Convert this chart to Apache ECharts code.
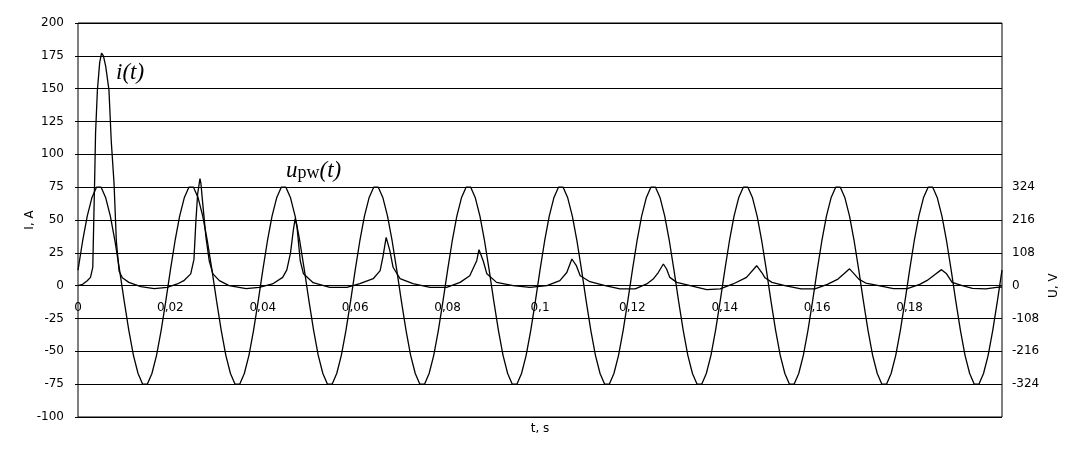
<!DOCTYPE html>
<html>
<head>
<meta charset="utf-8">
<title>i(t), upw(t)</title>
<script src="https://cdn.jsdelivr.net/npm/echarts@6/dist/echarts.min.js"></script>
<style>
  html, body { margin: 0; padding: 0; background: #fff; }
  #chart { width: 1087px; height: 455px; }
</style>
</head>
<body>
<div id="chart"></div>
<script>
// left axis (current, A) and right axis (voltage, V)
const currentTicks = { min: -100, max: 200, interval: 25 };
const voltageTicks = [-324, -216, -108, 0, 108, 216, 324];
const timeTicks = { min: 0, max: 0.2, interval: 0.02 };

// voltage upw(t), sampled every 1 ms
const voltageStep = 0.001;
const voltageV = [
  51, 147, 229, 289, 324, 324, 289, 229, 147, 51, -51, -147, -229, -289, -324, -324, -289, -229, -147, -51,
  51, 147, 229, 289, 324, 324, 289, 229, 147, 51, -51, -147, -229, -289, -324, -324, -289, -229, -147, -51,
  51, 147, 229, 289, 324, 324, 289, 229, 147, 51, -51, -147, -229, -289, -324, -324, -289, -229, -147, -51,
  51, 147, 229, 289, 324, 324, 289, 229, 147, 51, -51, -147, -229, -289, -324, -324, -289, -229, -147, -51,
  51, 147, 229, 289, 324, 324, 289, 229, 147, 51, -51, -147, -229, -289, -324, -324, -289, -229, -147, -51,
  51, 147, 229, 289, 324, 324, 289, 229, 147, 51, -51, -147, -229, -289, -324, -324, -289, -229, -147, -51,
  51, 147, 229, 289, 324, 324, 289, 229, 147, 51, -51, -147, -229, -289, -324, -324, -289, -229, -147, -51,
  51, 147, 229, 289, 324, 324, 289, 229, 147, 51, -51, -147, -229, -289, -324, -324, -289, -229, -147, -51,
  51, 147, 229, 289, 324, 324, 289, 229, 147, 51, -51, -147, -229, -289, -324, -324, -289, -229, -147, -51,
  51, 147, 229, 289, 324, 324, 289, 229, 147, 51, -51, -147, -229, -289, -324, -324, -289, -229, -147, -51,
  51
];

// current i(t): [t (s), i (A)]
const currentPts = [
  [0.0000, 0], [0.0010, 1.0], [0.0020, 3.8], [0.0027, 6.3], [0.0032, 14], [0.0036, 80],
  [0.0038, 116], [0.0042, 149], [0.0047, 170], [0.0051, 177], [0.0055, 175], [0.0060, 167],
  [0.0067, 149], [0.0072, 110], [0.0078, 78], [0.0083, 34], [0.0089, 11], [0.0096, 6],
  [0.0110, 2.5], [0.0136, -0.8], [0.0165, -2.3], [0.0193, -1.3], [0.0215, 1.3], [0.0229, 3.8],
  [0.0244, 9], [0.0251, 20], [0.0255, 48], [0.0259, 70], [0.0264, 81.5], [0.0266, 78],
  [0.0270, 62.5], [0.0277, 36.8], [0.0284, 19], [0.0292, 9], [0.0306, 3.8], [0.0327, 0],
  [0.0364, -2.3], [0.0392, -1.3], [0.0421, 1.3], [0.0443, 6.3], [0.0452, 12], [0.0460, 25],
  [0.0466, 42], [0.0470, 51], [0.0474, 45], [0.0481, 19], [0.0488, 9], [0.0509, 2.3],
  [0.0545, -1.3], [0.0582, -1.3], [0.0610, 1.5], [0.0639, 5.3], [0.0654, 11.4], [0.0660, 22],
  [0.0667, 36.8], [0.0675, 26.7], [0.0682, 14], [0.0697, 5.3], [0.0725, 1.5], [0.0762, -1.3],
  [0.0798, -1.3], [0.0827, 2.5], [0.0848, 7.6], [0.0863, 19], [0.0868, 27.4], [0.0877, 19],
  [0.0885, 9], [0.0906, 2.5], [0.0942, 0], [0.0978, -1.3], [0.1015, 0], [0.1043, 3.8],
  [0.1058, 10], [0.1069, 20.3], [0.1079, 15], [0.1087, 7.6], [0.1108, 3], [0.1141, 0],
  [0.1173, -2.5], [0.1206, -2.5], [0.1231, 1.3], [0.1245, 5], [0.1256, 10], [0.1267, 16.5],
  [0.1274, 12.7], [0.1281, 6.3], [0.1296, 2.5], [0.1325, 0], [0.1361, -3], [0.1390, -2.5],
  [0.1418, 1.3], [0.1447, 6.3], [0.1469, 15.2], [0.1480, 10], [0.1487, 6], [0.1502, 2.5],
  [0.1530, 0], [0.1565, -2.5], [0.1595, -2.5], [0.1622, 1], [0.1645, 5], [0.1658, 9],
  [0.1670, 12.8], [0.1680, 9], [0.1690, 5], [0.1705, 2], [0.1733, 0], [0.1765, -2.3],
  [0.1795, -2.3], [0.1822, 1], [0.1838, 4], [0.1855, 8.5], [0.1869, 12.2], [0.1880, 9],
  [0.1892, 2.5], [0.1914, 0], [0.1936, -2], [0.1965, -2.5], [0.1988, -1.3], [0.2000, -1]
];

const voltagePts = voltageV.map((v, k) => [+(k * voltageStep).toFixed(4), v]);

// plot box in px
const box = { left: 78, top: 23, width: 924, height: 394 };
const span = currentTicks.max - currentTicks.min;
// the voltage grid covers -75..75 A on the left scale (= -324..324 V)
const vTop = box.top + box.height * (currentTicks.max - 75) / span;
const vHeight = box.height * 150 / span;
// time labels sit on the zero line, not on the bottom edge
const zeroOffset = -box.height * (0 - currentTicks.min) / span;

const font = 'DejaVu Sans';
const txt = { color: '#000', fontFamily: font, fontSize: 12 };

const chart = echarts.init(document.getElementById('chart'));
chart.setOption({
  animation: false,
  backgroundColor: '#fff',
  grid: [
    { left: box.left, top: box.top, width: box.width, height: box.height,
      show: true, borderColor: '#000', borderWidth: 1 },
    { left: box.left, top: vTop, width: box.width, height: vHeight }
  ],
  xAxis: [
    {
      type: 'value', gridIndex: 0, position: 'bottom', offset: zeroOffset,
      min: timeTicks.min, max: timeTicks.max, interval: timeTicks.interval,
      axisLine: { show: false, onZero: false },
      axisTick: { show: false },
      splitLine: { show: false },
      axisLabel: {
        ...txt, margin: 16, showMaxLabel: false,
        formatter: v => (v > 0.199 ? '' : String(+v.toFixed(2)).replace('.', ','))
      }
    },
    {
      type: 'value', gridIndex: 0, position: 'bottom',
      min: timeTicks.min, max: timeTicks.max,
      axisLine: { show: false, onZero: false }, axisTick: { show: false },
      axisLabel: { show: false }, splitLine: { show: false },
      name: 't, s', nameLocation: 'middle', nameGap: 6,
      nameTextStyle: txt
    },
    {
      type: 'value', gridIndex: 1, show: false,
      min: timeTicks.min, max: timeTicks.max
    }
  ],
  yAxis: [
    {
      type: 'value', gridIndex: 0,
      min: currentTicks.min, max: currentTicks.max, interval: currentTicks.interval,
      axisLine: { show: false },
      axisTick: { show: true, length: 3, lineStyle: { color: '#000' } },
      splitLine: { show: true, lineStyle: { color: '#000', width: 1 } },
      axisLabel: { ...txt, margin: 14 },
      name: 'I, A', nameLocation: 'middle', nameGap: 42, nameRotate: 90,
      nameMoveOverlap: false,
      nameTextStyle: txt
    },
    {
      type: 'value', gridIndex: 1, position: 'right',
      min: voltageTicks[0], max: voltageTicks[voltageTicks.length - 1], interval: 108,
      axisLine: { show: false },
      axisTick: { show: true, length: 5, lineStyle: { color: '#000' } },
      splitLine: { show: false },
      axisLabel: { ...txt, margin: 10 },
      name: 'U, V', nameLocation: 'middle', nameGap: 46, nameRotate: 90,
      nameMoveOverlap: false,
      nameTextStyle: txt
    }
  ],
  series: [
    {
      name: 'i(t)', type: 'line', xAxisIndex: 0, yAxisIndex: 0,
      data: currentPts, showSymbol: false, clip: false,
      lineStyle: { color: '#000', width: 1.3 }
    },
    {
      name: 'upw(t)', type: 'line', xAxisIndex: 2, yAxisIndex: 1,
      data: voltagePts, showSymbol: false, clip: false,
      lineStyle: { color: '#000', width: 1.3 }
    }
  ],
  graphic: [
    {
      type: 'text', left: 116, top: 61,
      style: { text: 'i(t)', fill: '#000', font: 'italic 23px "Liberation Serif"' }
    },
    {
      type: 'text', left: 286, top: 159,
      style: {
        text: '{it|u}{sub|pw}{it|(t)}',
        rich: {
          it: { fill: '#000', fontFamily: 'Liberation Serif', fontStyle: 'italic', fontSize: 23, lineHeight: 26, verticalAlign: 'bottom' },
          sub: { fill: '#000', fontFamily: 'Liberation Serif', fontSize: 18, lineHeight: 20, verticalAlign: 'bottom' }
        }
      }
    }
  ]
});
</script>
</body>
</html>
